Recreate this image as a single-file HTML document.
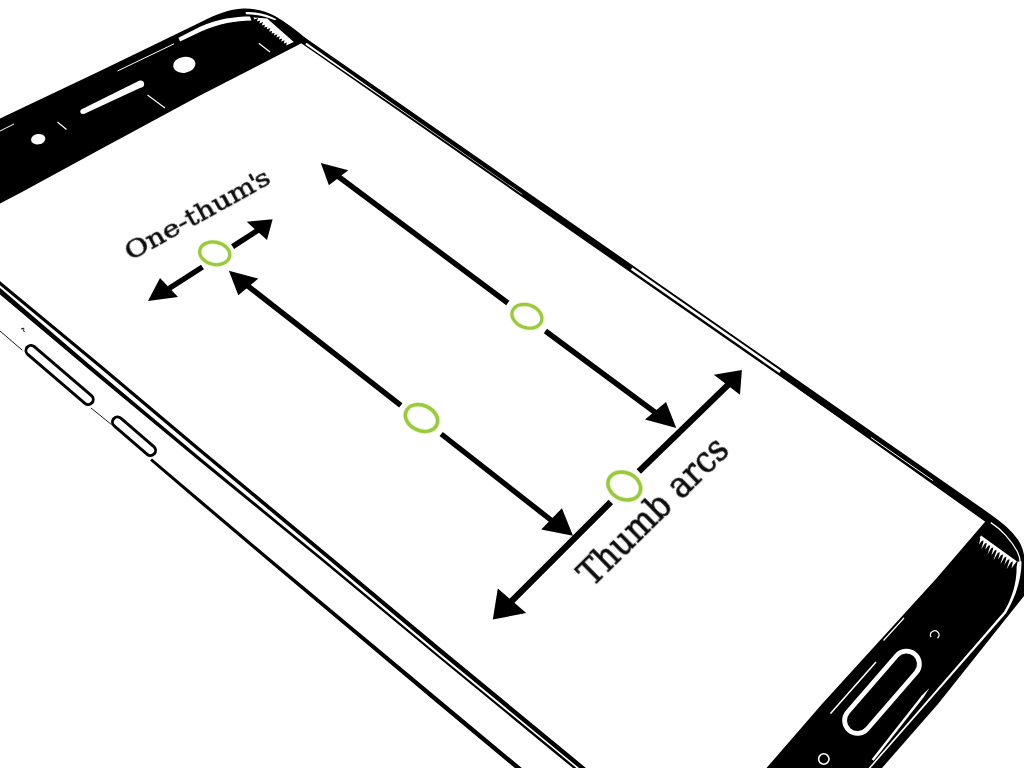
<!DOCTYPE html>
<html lang="en">
<head>
<meta charset="utf-8">
<title>One-thumb reach diagram</title>
<style>
  html, body { margin: 0; padding: 0; background: #ffffff; }
  body { width: 1024px; height: 768px; overflow: hidden; }
  svg { display: block; }
  .lbl { font-family: "DejaVu Serif", "Liberation Serif", serif; fill: #0a0a0a; }
</style>
</head>
<body>
<svg width="1024" height="768" viewBox="0 0 1024 768">
  <rect x="0" y="0" width="1024" height="768" fill="#ffffff"/>

  <!-- ===== top bezel (black) ===== -->
  <g id="top-bezel">
    <path d="M0,118.5 L100,71 L200,22.5 C215,15 230,9 243,8.6 C256,8.4 266,11 275,16 C286,22.5 296,30 306,38.5 L301,43.5 L200,95.5 L100,149.5 L22,192 L0,203.5 Z" fill="#000"/>
    <!-- highlights -->
    <path d="M178.5,37.8 L200,26.8 C218,18.6 235,16.4 250,16.4 L251.5,20.5 C236,20.6 219,23.5 201,31.4 L180,41.4 Z" fill="#fff"/>
    <path d="M245.5,12 C257,11.5 268,14.5 276.5,19.2 L275,20.2 C266,16.5 256,14.2 246,14.2 Z" fill="#fff"/>
    <path d="M253.4,17.4 L267.2,18.4 L293.8,42.1 L286.2,45.4 L286.8,42.6 L283.8,43.4 L284.6,40.3 L281.3,41.4 L282.1,38.5 L278.9,39.4 L279.8,36.3 L276.4,37.4 L277.4,34.2 L274.0,35.4 L274.5,32.9 L271.6,33.4 L272.0,30.9 L269.1,31.5 L270.3,28.0 L266.7,29.5 L267.3,26.7 L264.3,27.5 L264.9,24.7 L261.8,25.5 L263.1,21.9 L259.4,23.5 L260.2,20.5 L256.9,21.5 L258.1,18.1 L254.5,19.5 Z" fill="#fff"/>
    <line x1="117.5" y1="71" x2="174" y2="43.8" stroke="#fff" stroke-width="1"/>
    <line x1="0" y1="131" x2="14" y2="124" stroke="#fff" stroke-width="1"/>
    <line x1="147.5" y1="95" x2="165" y2="108" stroke="#fff" stroke-width="1.1"/>
    <line x1="57.5" y1="122" x2="66.5" y2="129.5" stroke="#fff" stroke-width="1.1"/>
    <line x1="258.8" y1="43.2" x2="270" y2="52" stroke="#fff" stroke-width="1.2"/>
    <!-- camera, speaker, sensor -->
    <ellipse cx="184.3" cy="64.8" rx="11.2" ry="8" fill="#fff" transform="rotate(-8 184.3 64.8)"/>
    <g fill="#fff"><polygon points="83.9,113.9 142.1,87.1 139.1,80.7 81.7,109.3"/><circle cx="82.8" cy="111.6" r="2.5"/><circle cx="140.6" cy="83.9" r="3.5"/></g>
    <ellipse cx="38.2" cy="139.2" rx="7.2" ry="5.2" fill="#fff" transform="rotate(-8 38.2 139.2)"/>
  </g>

  <!-- ===== right long edge ===== -->
  <g id="right-edge">
    <path d="M302.5,40.0 L985.5,515.0 C999,524.4 1011.5,534 1017.6,546 C1019.8,550.5 1021,555.5 1021.2,563" fill="none" stroke="#000" stroke-width="7" stroke-linejoin="round"/>
    <polygon points="790.0,379.0 798.0,388.8 897.4,459.3 985.3,521.7 992.0,519.5" fill="#000"/>
    <!-- white slits in the edge -->
    <polygon points="306.5,42.7 399.6,108.4 522.4,194.1 522.1,194.5 399.1,109.1 305.3,44.5" fill="#fff"/>
    <path d="M631.6,268.6 L780.1,371.9" fill="none" stroke="#fff" stroke-width="2.7"/>
    <path d="M871.0,437.5 L933.0,480.6" fill="none" stroke="#fff" stroke-width="1"/>
  </g>

  <!-- ===== bottom bezel (black) ===== -->
  <g id="bottom-bezel">
    <path d="M985.3,521.5 L936.8,578 L822,704 L766.5,768 L882,768 L938,704 L1024,596 L1025,580 L1024.7,563 C1021,555.5 1019.8,550.5 1017.6,546 C1011.5,534 999,524.4 985.5,515 Z" fill="#000"/>
    <!-- hatch highlight -->
    <path d="M981.0,535.5 L1016.8,561.2 L1014.4,564.6 L1014.2,564.5 L1011.4,568.5 L1012.6,563.3 L1012.8,561.5 L1010.9,562.2 L1006.6,569.3 L1009.3,561.0 L1009.5,559.2 L1007.7,559.8 L1004.4,564.7 L1006.1,558.7 L1006.3,556.8 L1004.4,557.5 L1000.3,564.2 L1002.8,556.3 L1003.0,554.5 L1001.2,555.1 L998.1,559.6 L999.5,554.0 L999.8,552.2 L997.9,552.8 L993.4,560.5 L996.3,551.6 L996.5,549.8 L994.7,550.5 L991.4,555.4 L993.0,549.3 L993.3,547.5 L991.4,548.1 L987.5,554.4 L989.8,547.0 L990.0,545.2 L988.2,545.8 L985.3,549.8 L986.5,544.6 L986.7,542.8 L984.9,543.5 L981.2,549.3 L983.3,542.3 L983.5,540.5 L981.6,541.1 L979.0,544.7 L980.0,540.0 L980.2,538.1 L979.4,538.3 Z" fill="#fff"/>
    <!-- corner inner arc + right inner highlight -->
    <path d="M990.8,522.6 C1001,529 1011.5,540.5 1017.3,551.5 C1019,555 1020,558.5 1020.2,562" fill="none" stroke="#fff" stroke-width="1.3"/>
    <path d="M1017.6,561.5 L1021.6,561.5 C1021.4,581 1014.5,599 1006,613.2 L870.6,768 L868.6,768 L1004.2,611.6 C1012,598 1016.8,583 1016.6,567 Z" fill="#fff"/>
    <polygon points="929.4,688 923.8,697.1 873.7,760.8 871.7,759.2 921.8,695.6" fill="#fff"/>
    <line x1="904" y1="618" x2="883.5" y2="640.5" stroke="#fff" stroke-width="1.2"/>
    <line x1="876" y1="662" x2="830.5" y2="713.5" stroke="#fff" stroke-width="1.6"/>
    <!-- home button -->
    <line x1="906.5" y1="664" x2="857.5" y2="720.5" stroke="#fff" stroke-width="30.6" stroke-linecap="round"/>
    <line x1="906.5" y1="664" x2="857.5" y2="720.5" stroke="#000" stroke-width="21" stroke-linecap="round"/>
    <!-- small marks -->
    <path d="M931.1,637.1 A4.2,4.2 0 1 1 937.4,638.2" fill="none" stroke="#fff" stroke-width="1.2"/>
    <circle cx="823.8" cy="759" r="5.2" fill="none" stroke="#fff" stroke-width="1.6"/>
  </g>

  <!-- ===== left screen edge + side ===== -->
  <g id="left-edge" fill="none" stroke="#000">
    <g stroke="none">
    <polygon points="-5.0,281.0 -1.0,284.3 99.0,367.2 198.9,451.5 330.8,561.5 438.6,652.2 571.4,761.7 583.4,771.6 586.2,768.2 574.2,758.3 441.4,648.8 333.2,558.5 201.1,448.9 101.0,364.8 1.0,281.9 -3.0,278.6" fill="#000"/>
    <polygon points="-5.6,289.8 -1.6,293.2 86.6,367.6 199.0,460.7 321.9,561.0 439.3,658.3 564.3,760.9 576.3,770.7 577.7,769.0 565.7,759.1 440.7,656.7 323.5,559.0 201.0,458.3 89.4,364.4 1.6,289.3 -2.4,285.9" fill="#000"/>
    <polygon points="150.0,460.6 199.0,502.4 268.4,561.3 438.6,704.5 507.3,761.7 519.3,771.7 522.2,768.3 510.2,758.3 441.4,701.1 270.6,558.7 201.0,500.1 152.0,458.4" fill="#000"/>
    </g>
    <path d="M0,331 L22.3,350.2" stroke-width="0.9"/>
    <path d="M91,408 L111.5,424.6" stroke-width="0.9"/>
    <!-- side buttons -->
    <line x1="31" y1="350.5" x2="88.2" y2="399.5" stroke-width="13" stroke-linecap="round"/>
    <line x1="31" y1="350.5" x2="88.2" y2="399.5" stroke="#fff" stroke-width="7.2" stroke-linecap="round"/>
    <line x1="117.5" y1="422" x2="150.5" y2="450.5" stroke-width="13" stroke-linecap="round"/>
    <line x1="117.5" y1="422" x2="150.5" y2="450.5" stroke="#fff" stroke-width="7.2" stroke-linecap="round"/>
    <path d="M21,329.2 L23,328 L24.4,329 M22.6,328.4 L24.4,332" stroke-width="0.9"/>
  </g>

  <!-- ===== arrows ===== -->
  <g id="arrows" fill="#000" stroke="none">
    <!-- small double arrow through circle 1 -->
    <line x1="232.6" y1="246.6" x2="259.5" y2="229.2" stroke="#000" stroke-width="5.5"/>
    <polygon points="272.6,219.2 246.7,221.8 267,240"/>
    <line x1="202.5" y1="267" x2="169" y2="288.5" stroke="#000" stroke-width="5.5"/>
    <polygon points="148,301 160,278 178,297"/>

    <!-- long arrow A -->
    <line x1="337" y1="175.5" x2="507.8" y2="303" stroke="#000" stroke-width="5.4"/>
    <polygon points="320.8,163 348.3,170.2 328.9,185.2"/>
    <line x1="545.4" y1="331" x2="660" y2="416" stroke="#000" stroke-width="5.4"/>
    <polygon points="676.3,428 666,402 645,419.5"/>

    <!-- long arrow B -->
    <line x1="246" y1="284.5" x2="400.8" y2="405.4" stroke="#000" stroke-width="5.4"/>
    <polygon points="228.9,270.8 258.3,278.6 238.3,295.2"/>
    <line x1="441.2" y1="434" x2="556" y2="524" stroke="#000" stroke-width="5.4"/>
    <polygon points="573,535.8 561.9,508.2 541.2,529.5"/>

    <!-- big arrow C -->
    <line x1="638.8" y1="471.4" x2="730" y2="383" stroke="#000" stroke-width="6.3"/>
    <polygon points="741.9,370 713.8,374.8 740,394.8"/>
    <line x1="610.8" y1="502" x2="510" y2="602.8" stroke="#000" stroke-width="6.3"/>
    <polygon points="492.8,619.6 497.8,588.6 526.2,613"/>
  </g>

  <!-- ===== green circles ===== -->
  <g id="circles" fill="#fff">
    <ellipse cx="214.7" cy="253.3" rx="15.2" ry="11.2" transform="rotate(12 214.7 253.3)" stroke="#eaf6cc" stroke-width="4.8"/>
    <ellipse cx="214.7" cy="253.3" rx="15.2" ry="11.2" transform="rotate(12 214.7 253.3)" fill="none" stroke="#99ca3e" stroke-width="3.2"/>
    <ellipse cx="526.9" cy="316.3" rx="15.4" ry="11.4" transform="rotate(20 526.9 316.3)" stroke="#eaf6cc" stroke-width="4.8"/>
    <ellipse cx="526.9" cy="316.3" rx="15.4" ry="11.4" transform="rotate(20 526.9 316.3)" fill="none" stroke="#99ca3e" stroke-width="3.2"/>
    <ellipse cx="421.5" cy="418.0" rx="16.8" ry="12.6" transform="rotate(25 421.5 418.0)" stroke="#eaf6cc" stroke-width="5.1"/>
    <ellipse cx="421.5" cy="418.0" rx="16.8" ry="12.6" transform="rotate(25 421.5 418.0)" fill="none" stroke="#99ca3e" stroke-width="3.5"/>
    <ellipse cx="624.3" cy="486.0" rx="16.9" ry="13.3" transform="rotate(25 624.3 486.0)" stroke="#eaf6cc" stroke-width="5.1"/>
    <ellipse cx="624.3" cy="486.0" rx="16.9" ry="13.3" transform="rotate(25 624.3 486.0)" fill="none" stroke="#99ca3e" stroke-width="3.5"/>
  </g>

  <!-- ===== labels ===== -->
  <g id="labels" opacity="0.995">
  <text class="lbl" font-size="24.6" stroke="#0a0a0a" stroke-width="0.6" dx="0 0 0 0 0 0 0 0 -2.2 -2.4" transform="translate(130.5 261) rotate(-29) scale(1.17 1)">One-thum's</text>
  <text class="lbl" font-size="35" stroke="#0a0a0a" stroke-width="0.75" transform="translate(592 588) rotate(-44.5) scale(0.925 1)">Thumb arcs</text>
  </g>
</svg>
</body>
</html>
